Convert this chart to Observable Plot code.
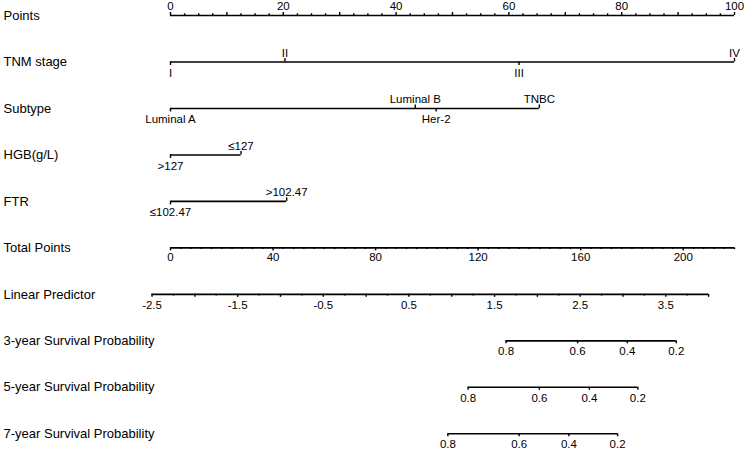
<!DOCTYPE html>
<html><head><meta charset="utf-8">
<script src="https://cdn.jsdelivr.net/npm/d3@7"></script>
<script src="https://cdn.jsdelivr.net/npm/@observablehq/plot@0.6"></script>
<style>body{margin:0;background:#fff}</style>
</head><body><div id="chart"></div>
<script>
// ---- data ----
const rowLabels = ["Points","TNM stage","Subtype","HGB(g/L)","FTR","Total Points","Linear Predictor",
  "3-year Survival Probability","5-year Survival Probability","7-year Survival Probability"];

const tnmLevels = ["I","II","III","IV"];
const tnmPoints = [0, 20.3, 61.8, 100];
const subtypeLevels = ["Luminal A","Luminal B","Her-2","TNBC"];
const subtypePoints = [0, 43.4, 47.1, 65.4];
const hgbLevels = [">127","≤127"];
const hgbPoints = [0, 12.5];
const ftrLevels = ["≤102.47",">102.47"];
const ftrPoints = [0, 20.6];

const pointsMax = 100;
const pointsStep = 2.5;
const pointsLabels = [0,20,40,60,80,100];

const totalMax = 220;
const totalStep = 4;
const totalLabels = [0,40,80,120,160,200];

const lpMin = -2.5, lpMax = 4.0, lpStep = 0.25;
const lpLabels = [-2.5,-1.5,-0.5,0.5,1.5,2.5,3.5];
const lpZeroTotal = 76.3;   // total points where linear predictor = 0
const totalPerLp = 33.4;    // total points per unit of linear predictor

const survProbs = [0.8, 0.6, 0.4, 0.2];
const surv3Total = [130.9, 158.8, 178.2, 197.3];
const surv5Total = [116.1, 143.9, 163.4, 182.3];
const surv7Total = [108.2, 136.0, 155.4, 174.4];

// ---- build ----
const yRange = [15, 433.3];
const rowPx = (yRange[1] - yRange[0]) / (rowLabels.length - 1);
const u = px => px / rowPx;
const totToPts = t => t * pointsMax / totalMax;
const lpToPts = lp => totToPts(lpZeroTotal + lp * totalPerLp);

const lines = [], ticks = [], labAbove = [], labBelow = [], labNumBelow = [];

// Points row (ticks up, labels above)
lines.push({row:0, a:0, b:pointsMax});
d3.range(0, pointsMax + 0.001, pointsStep).forEach(p => {
  const len = (p % 10 === 0) ? 3 : 1.7;
  ticks.push({x:p, y1:0 - u(len), y2:0});
});
const labPoints = pointsLabels.map(p => ({x:p, row:0, text:String(p)}));

// Categorical rows
function catRow(row, levels, pts) {
  const items = levels.map((l,i) => ({l, p:pts[i]})).sort((a,b) => a.p - b.p);
  lines.push({row, a:d3.min(pts), b:d3.max(pts)});
  items.forEach((it, k) => {
    const below = k % 2 === 0;
    ticks.push({x:it.p, y1:row, y2: row + (below ? u(3.5) : -u(3.5))});
    (below ? labBelow : labAbove).push({x:it.p, row, text:it.l});
  });
}
catRow(1, tnmLevels, tnmPoints);
catRow(2, subtypeLevels, subtypePoints);
catRow(3, hgbLevels, hgbPoints);
catRow(4, ftrLevels, ftrPoints);

// Total points
lines.push({row:5, a:0, b:totToPts(totalMax)});
d3.range(0, totalMax + 0.001, totalStep).forEach(t => {
  const len = totalLabels.includes(t) ? 3 : 1.7;
  ticks.push({x:totToPts(t), y1:5, y2:5 + u(len)});
});
const labTotal = totalLabels.map(t => ({x:totToPts(t), row:5, text:String(t)}));

// Linear predictor
lines.push({row:6, a:lpToPts(lpMin), b:lpToPts(lpMax)});
d3.range(lpMin, lpMax + 0.001, lpStep).forEach(v => {
  const len = Math.abs((v * 2) % 1) < 1e-6 ? 3 : 1.7;
  ticks.push({x:lpToPts(v), y1:6, y2:6 + u(len)});
});
lpLabels.forEach(v => labNumBelow.push({x:lpToPts(v), row:6, text:String(v)}));

// Survival rows
[[7, surv3Total],[8, surv5Total],[9, surv7Total]].forEach(([row, tot]) => {
  const xs = tot.map(totToPts);
  lines.push({row, a:d3.min(xs), b:d3.max(xs)});
  xs.forEach((x, i) => {
    ticks.push({x, y1:row, y2:row + u(3)});
    labNumBelow.push({x, row, text:String(survProbs[i])});
  });
});

const chart = Plot.plot({
  width: 745, height: 450,
  marginTop: 0, marginRight: 0, marginBottom: 0, marginLeft: 0,
  style: {fontFamily: "'Liberation Sans', Arial, Helvetica, sans-serif", fontSize: "11.5px", color: "#000", background: "#fff"},
  x: {domain: [0, pointsMax], range: [170, 734], axis: null},
  y: {domain: [0, rowLabels.length - 1], range: yRange, axis: null},
  marks: [
    Plot.text(rowLabels.map((t,i) => ({t,i})), {y:"i", text:"t", frameAnchor:"left", textAnchor:"start", dx:3, fontSize:13, fill:"#000"}),
    Plot.ruleY(lines, {y:"row", x1:"a", x2:"b", stroke:"#000", strokeWidth:1.6}),
    Plot.ruleX(ticks, {x:"x", y1:"y1", y2:"y2", stroke:"#000", strokeWidth:1.4}),
    Plot.text(labPoints, {x:"x", y:"row", text:"text", dy:-9.5, fill:"#000"}),
    Plot.text(labAbove, {x:"x", y:"row", text:"text", dy:-9, fill:"#000"}),
    Plot.text(labBelow, {x:"x", y:"row", text:"text", dy:11, fill:"#000"}),
    Plot.text(labTotal, {x:"x", y:"row", text:"text", dy:9.5, fill:"#000"}),
    Plot.text(labNumBelow, {x:"x", y:"row", text:"text", dy:10.5, fill:"#000"})
  ]
});
document.getElementById("chart").appendChild(chart);
</script>
</body></html>
